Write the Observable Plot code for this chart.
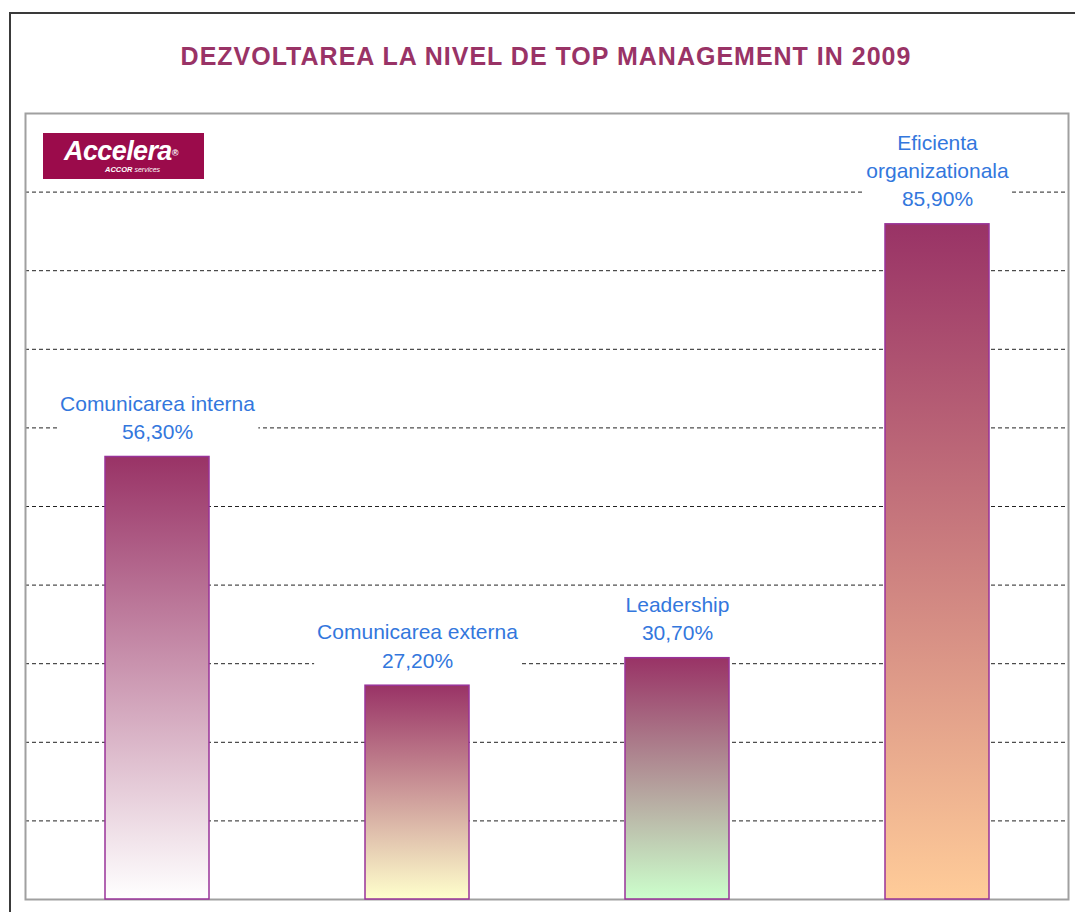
<!DOCTYPE html>
<html><head><meta charset="utf-8">
<script src="https://cdn.jsdelivr.net/npm/d3@7"></script>
<script src="https://cdn.jsdelivr.net/npm/@observablehq/plot@0.6"></script>
<style>
body{margin:0;background:#fff;}
#wrap{position:relative;width:1075px;height:912px;overflow:hidden;font-family:"Liberation Sans",Arial,sans-serif;background:#fff;}
#frame{position:absolute;left:9px;top:12px;width:1100px;height:920px;border-left:2px solid #3a3a3a;border-top:2px solid #3a3a3a;z-index:3;pointer-events:none;}
#title{position:absolute;left:0;width:1092px;top:42px;text-align:center;font-weight:bold;font-size:25px;line-height:29px;letter-spacing:1px;color:#993366;}
#chart{position:absolute;left:0;top:100px;}
#logo{position:absolute;left:43px;top:133px;width:161px;height:46px;background:#9B0B4B;color:#fff;z-index:2;}
#logo .a{position:absolute;left:21px;top:3px;font-style:italic;font-weight:bold;font-size:27px;letter-spacing:-0.6px;}
#logo .r{font-size:9px;vertical-align:middle;}
#logo .s{position:absolute;left:62px;top:32px;font-size:7px;font-style:italic;}
#logo .s b{font-size:7.5px;}
</style></head>
<body>
<div id="wrap">
  <div id="frame"></div>
  <div id="title">DEZVOLTAREA LA NIVEL DE TOP MANAGEMENT IN 2009</div>
  <div id="chart"></div>
  <div id="logo"><span class="a">Accelera<span class="r">®</span></span><span class="s"><b>ACCOR</b> services</span></div>
</div>
<script>
const categories = ["Comunicarea interna", "Comunicarea externa", "Leadership", "Eficienta organizationala"];
const labelNames = ["Comunicarea interna", "Comunicarea externa", "Leadership", "Eficienta\norganizationala"];
const values = [56.3, 27.2, 30.7, 85.9];
const gridTicks = [10, 20, 30, 40, 50, 60, 70, 80, 90];
const topColor = "#993366";
const bottomColors = ["#FFFFFF", "#FFFFCC", "#CCFFCC", "#FFCC99"];

const data = categories.map((c, i) => ({
  category: c,
  value: values[i],
  grad: `url(#grad${i})`,
  label: labelNames[i] + "\n" + values[i].toFixed(2).replace(".", ",") + "%"
}));

const defs = () => {
  const d = d3.create("svg:defs");
  bottomColors.forEach((c, i) => {
    const g = d.append("linearGradient").attr("id", `grad${i}`)
      .attr("x1", 0).attr("y1", 0).attr("x2", 0).attr("y2", 1);
    g.append("stop").attr("offset", "0%").attr("stop-color", topColor);
    g.append("stop").attr("offset", "100%").attr("stop-color", c);
  });
  return d.node();
};

const chart = Plot.plot({
  width: 1075, height: 812,
  marginLeft: 25, marginRight: 7, marginTop: 13, marginBottom: 13,
  x: {domain: categories, paddingInner: 0.6, paddingOuter: 0.3, axis: null},
  y: {domain: [0, 100], axis: null},
  color: {type: "identity"},
  style: {fontFamily: "'Liberation Sans', Arial, sans-serif", background: "white"},
  marks: [
    defs,
    Plot.ruleY(gridTicks, {stroke: "#222", strokeDasharray: "4,3", strokeWidth: 1}),
    Plot.frame({stroke: "#a0a0a0", strokeWidth: 2}),
    Plot.barY(data, {x: "category", y: "value", fill: "grad", stroke: "#993399", strokeWidth: 1.5}),
    Plot.text(data, {x: "category", y: "value", text: "label", lineAnchor: "bottom", dy: -18,
      fontSize: 21, fill: "#3377DD", lineHeight: 1.35})
  ]
});
document.getElementById("chart").appendChild(chart);

// white boxes behind labels (masking the gridlines, as in the original)
document.querySelectorAll('#chart g[aria-label="text"] text').forEach(t => {
  const b = t.getBBox();
  const r = document.createElementNS("http://www.w3.org/2000/svg", "rect");
  r.setAttribute("x", b.x - 3);
  r.setAttribute("y", b.y - 1);
  r.setAttribute("width", b.width + 6);
  r.setAttribute("height", b.height + 2);
  r.setAttribute("fill", "white");
  const tr = t.getAttribute("transform");
  if (tr) r.setAttribute("transform", tr);
  t.parentNode.insertBefore(r, t);
});
</script>
</body></html>
